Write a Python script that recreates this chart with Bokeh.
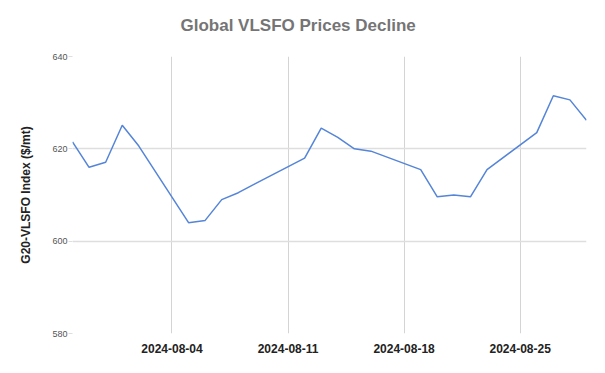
from datetime import datetime
from bokeh.plotting import figure
from bokeh.models import Range1d, FixedTicker, DatetimeTickFormatter, ColumnDataSource, Title
from bokeh.embed import file_html
from bokeh.resources import INLINE

dates = ["2024-07-29", "2024-07-30", "2024-07-31", "2024-08-01", "2024-08-02",
         "2024-08-05", "2024-08-06", "2024-08-07", "2024-08-08", "2024-08-09",
         "2024-08-12", "2024-08-13", "2024-08-14", "2024-08-15", "2024-08-16",
         "2024-08-19", "2024-08-20", "2024-08-21", "2024-08-22", "2024-08-23",
         "2024-08-26", "2024-08-27", "2024-08-28", "2024-08-29"]
prices = [621.5, 616.0, 617.1, 625.1, 620.6,
          604.0, 604.5, 609.0, 610.5, 612.4,
          618.0, 624.5, 622.5, 620.0, 619.5,
          615.5, 609.6, 610.0, 609.6, 615.5,
          623.5, 631.5, 630.6, 626.2]
x_ticks = ["2024-08-04", "2024-08-11", "2024-08-18", "2024-08-25"]
y_ticks = [580, 600, 620, 640]

def ts(s):
    return datetime.strptime(s, "%Y-%m-%d")

def ms(s):
    return (ts(s) - datetime(1970, 1, 1)).total_seconds() * 1000.0

src = ColumnDataSource(dict(x=[ts(d) for d in dates], y=prices))

p = figure(width=589, height=365, x_axis_type="datetime",
           x_range=Range1d(ts(dates[0]), ts(dates[-1])),
           y_range=Range1d(580, 640),
           output_backend="svg", toolbar_location=None,
           min_border_left=72, min_border_right=3,
           min_border_top=56, min_border_bottom=32)

p.title.text = "Global VLSFO Prices Decline"
p.title.text_font = "Liberation Sans"
p.title.text_font_size = "17px"
p.title.text_font_style = "bold"
p.title.text_color = "#757575"
p.title.align = "left"
p.title.offset = 108
p.title.standoff = 10

# spacer between the title and the frame
p.add_layout(Title(text=" ", text_font_size="8px", standoff=6), "above")

p.line("x", "y", source=src, line_color="#5585d8", line_width=1.5)

p.outline_line_color = None
p.background_fill_color = "white"
p.border_fill_color = "white"

p.xaxis.ticker = FixedTicker(ticks=[ms(t) for t in x_ticks])
p.xaxis.formatter = DatetimeTickFormatter(days="%Y-%m-%d", months="%Y-%m-%d", years="%Y-%m-%d")
p.xaxis.major_label_text_font = "Liberation Sans"
p.xaxis.major_label_text_font_size = "12px"
p.xaxis.major_label_text_font_style = "bold"
p.xaxis.major_label_text_color = "#222222"
p.xaxis.major_label_standoff = 10
p.xaxis.major_tick_line_color = None
p.xaxis.major_tick_out = 0

p.yaxis.ticker = FixedTicker(ticks=y_ticks)
p.yaxis.major_label_text_font = "Liberation Sans"
p.yaxis.major_label_text_font_size = "9px"
p.yaxis.major_label_text_color = "#555555"
p.yaxis.major_label_standoff = 1
p.yaxis.major_tick_line_color = "#dedede"
p.yaxis.major_tick_in = 0
p.yaxis.major_tick_out = 4
p.yaxis.axis_label = "G20-VLSFO Index ($/mt)"
p.yaxis.axis_label_text_font = "Liberation Sans"
p.yaxis.axis_label_text_font_size = "12px"
p.yaxis.axis_label_text_font_style = "bold"
p.yaxis.axis_label_text_color = "#222222"
p.yaxis.axis_label_standoff = 16

for ax in (p.xaxis, p.yaxis):
    ax.axis_line_color = None
    ax.minor_tick_line_color = None

p.xgrid.grid_line_color = "#d4d4d4"
p.ygrid.grid_line_color = "#dedede"
p.ygrid.grid_line_width = 1.3

open("out.html", "w").write(file_html(p, INLINE))
